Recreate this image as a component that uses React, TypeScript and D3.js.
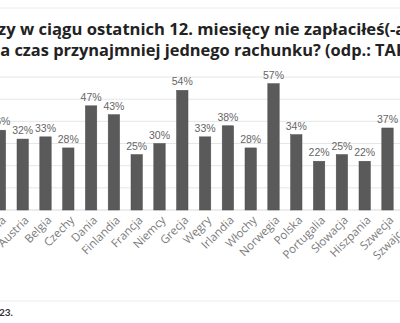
import React from "react";
import * as d3 from "d3";

const categories = [
  "Średnia", "Austria", "Belgia", "Czechy", "Dania", "Finlandia", "Francja", "Niemcy", "Grecja",
  "Węgry", "Irlandia", "Włochy", "Norwegia", "Polska", "Portugalia", "Słowacja", "Hiszpania",
  "Szwecja", "Szwajcaria",
];
const values = [36, 32, 33, 28, 47, 43, 25, 30, 54, 33, 38, 28, 57, 34, 22, 25, 22, 37, 33];
const gridTicks = [0, 10, 20, 30, 40, 50, 60];
const titleLines = [
  "Czy w ciągu ostatnich 12. miesięcy nie zapłaciłeś(-aś)",
  "na czas przynajmniej jednego rachunku? (odp.: TAK)",
];
const footnote = "2023.";

export default function App() {
  const W = 400, H = 323;
  const x = d3.scaleBand<string>().domain(categories).range([-11.5, 421.7]).paddingInner(0.5).paddingOuter(0.25);
  const y = d3.scaleLinear().domain([0, 60]).range([210, 77]);
  return (
    <svg width={W} height={H} style={{ position: "absolute", left: 0, top: 0, background: "#fff" }}>
      <line x1={0} x2={W} y1={8} y2={8} stroke="#ececec" strokeWidth={1} />
      <text x={-12.5} y={35} fontFamily="Open Sans" fontWeight={700} fontSize={16.6} fill="#222">{titleLines[0]}</text>
      <text x={-10.5} y={55.5} fontFamily="Open Sans" fontWeight={700} fontSize={16.4} fill="#222">{titleLines[1]}</text>
      {gridTicks.map((t) => (
        <line key={t} x1={0} x2={W} y1={y(t)} y2={y(t)} stroke={t === 0 ? "#d9d9d9" : "#e6e6e6"} strokeWidth={1} />
      ))}
      {categories.map((c, i) => {
        const bx = x(c)!;
        const bw = x.bandwidth();
        const cx = bx + bw / 2;
        return (
          <g key={c}>
            <rect x={bx} y={y(values[i])} width={bw} height={y(0) - y(values[i])} fill="#5a5a5a" stroke="#4d4d4d" strokeWidth={0.5} />
            <text x={cx} y={y(values[i]) - 5} textAnchor="middle" fontFamily="Liberation Sans" fontSize={10.5} fill="#666">{values[i]}%</text>
            <text transform={`translate(${cx + 4},${218}) rotate(-45)`} textAnchor="end" dy="0.35em" fontFamily="Open Sans" fontSize={11.5} fill="#7a7a7a">{c}</text>
          </g>
        );
      })}
      <line x1={0} x2={W} y1={301} y2={301} stroke="#ececec" strokeWidth={1} />
      <text x={13} y={316} textAnchor="end" fontFamily="Lato" fontWeight={700} fontSize={10} fill="#333">{footnote}</text>
    </svg>
  );
}
